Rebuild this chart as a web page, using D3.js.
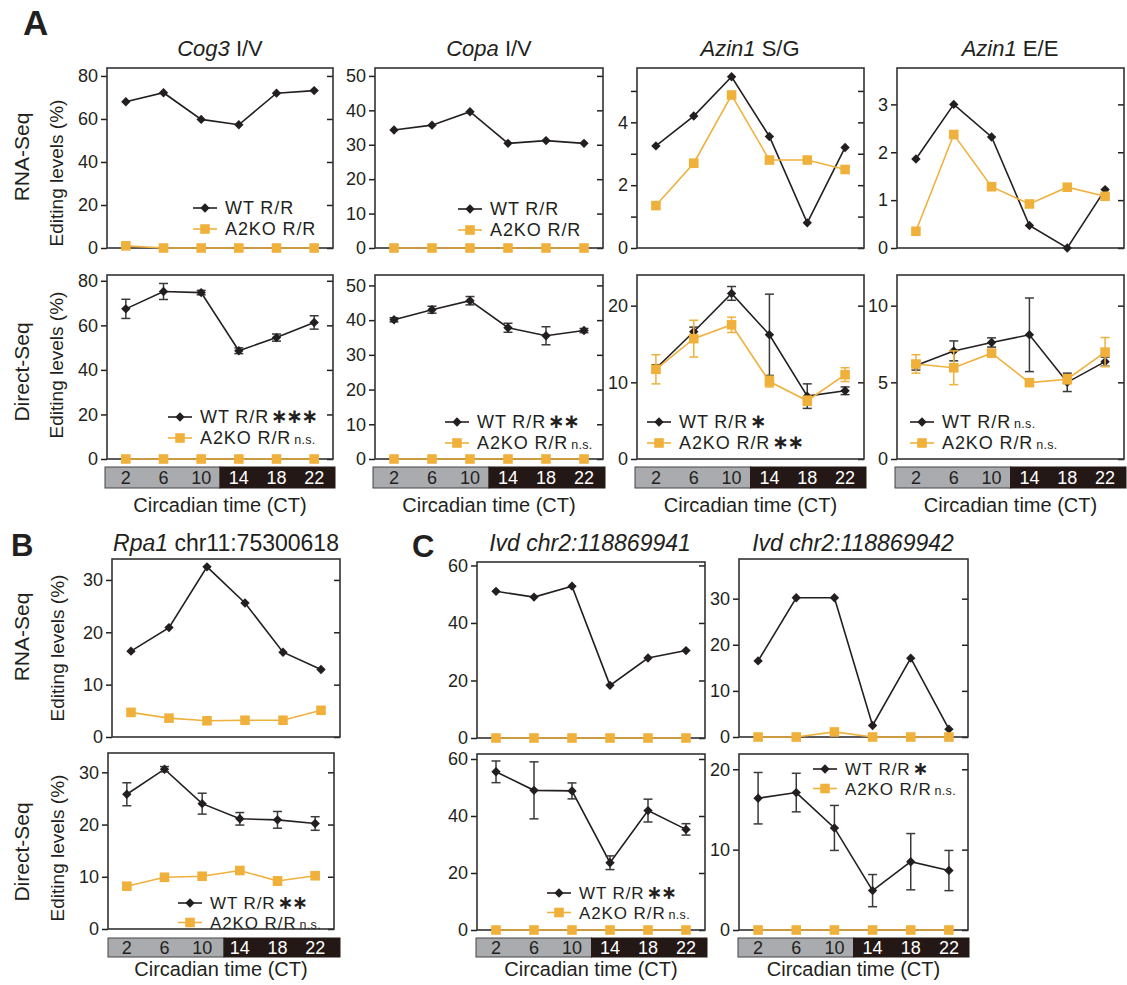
<!DOCTYPE html>
<html><head><meta charset="utf-8">
<script src="https://cdn.jsdelivr.net/npm/d3@7"></script>
<style>
body{margin:0;background:#fff}
svg{display:block}
text{font-family:Arial,"Liberation Sans",sans-serif;fill:#231f20}
</style>
</head><body>
<svg id="fig" width="1127" height="985"></svg>
<script>
// ---------- DATA ----------
const ctTimes = [2, 6, 10, 14, 18, 22];
const ctLabels = ["2", "6", "10", "14", "18", "22"];
const seriesNames = ["WT R/R", "A2KO R/R"];

// Panel A — Cog3 I/V
const cog3RnaWT = [68, 72.2, 59.8, 57.3, 72, 73.2];
const cog3RnaKO = [1, 0, 0, 0, 0, 0];
const cog3RnaTicks = [0, 20, 40, 60, 80];
const cog3DirWT = [67.4, 75.2, 74.7, 48.6, 54.5, 61.3];
const cog3DirWTErr = [4.3, 3.6, 1.0, 1.3, 1.6, 3.0];
const cog3DirKO = [0, 0, 0, 0, 0, 0];
const cog3DirKOErr = [0, 0, 0, 0, 0, 0];
const cog3DirTicks = [0, 20, 40, 60, 80];
const cog3DirSig = ["***", "n.s."];

// Panel A — Copa I/V
const copaRnaWT = [34.3, 35.7, 39.6, 30.4, 31.2, 30.4];
const copaRnaKO = [0, 0, 0, 0, 0, 0];
const copaRnaTicks = [0, 10, 20, 30, 40, 50];
const copaDirWT = [40.1, 43.0, 45.6, 37.8, 35.5, 37.0];
const copaDirWTErr = [0.6, 1.0, 1.2, 1.3, 2.6, 0.6];
const copaDirKO = [0, 0, 0, 0, 0, 0];
const copaDirKOErr = [0, 0, 0, 0, 0, 0];
const copaDirTicks = [0, 10, 20, 30, 40, 50];
const copaDirSig = ["**", "n.s."];

// Panel A — Azin1 S/G
const sgRnaWT = [3.25, 4.2, 5.45, 3.55, 0.8, 3.2];
const sgRnaKO = [1.35, 2.7, 4.87, 2.8, 2.8, 2.5];
const sgRnaTicks = [0, 1, 2, 3, 4, 5];
const sgRnaTickLabels = ["0", "", "2", "", "4", ""];
const sgDirWT = [11.8, 16.6, 21.6, 16.2, 8.2, 8.9];
const sgDirWTErr = [0.5, 0.6, 0.9, 5.3, 1.6, 0.5];
const sgDirKO = [11.7, 15.7, 17.5, 10.1, 7.6, 11.0];
const sgDirKOErr = [1.9, 2.4, 1.0, 0.7, 0.6, 0.9];
const sgDirTicks = [0, 10, 20];
const sgDirSig = ["*", "**"];

// Panel A — Azin1 E/E
const eeRnaWT = [1.86, 3.0, 2.32, 0.47, 0.0, 1.22];
const eeRnaKO = [0.35, 2.37, 1.28, 0.92, 1.27, 1.08];
const eeRnaTicks = [0, 1, 2, 3];
const eeDirWT = [6.1, 7.05, 7.6, 8.1, 5.0, 6.35];
const eeDirWTErr = [0.3, 0.65, 0.3, 2.4, 0.6, 0.3];
const eeDirKO = [6.2, 5.95, 6.9, 4.98, 5.2, 6.97];
const eeDirKOErr = [0.6, 1.1, 0.25, 0, 0.3, 0.95];
const eeDirTicks = [0, 5, 10];
const eeDirSig = ["n.s.", "n.s."];

// Panel B — Rpa1 chr11:75300618
const rpaRnaWT = [16.4, 20.9, 32.5, 25.6, 16.2, 12.9];
const rpaRnaKO = [4.7, 3.6, 3.1, 3.2, 3.2, 5.1];
const rpaRnaTicks = [0, 10, 20, 30];
const rpaDirWT = [25.8, 30.6, 24.0, 21.1, 20.9, 20.2];
const rpaDirWTErr = [2.2, 0.5, 2.0, 1.2, 1.6, 1.3];
const rpaDirKO = [8.2, 9.9, 10.1, 11.2, 9.2, 10.2];
const rpaDirKOErr = [0.4, 0.7, 0.5, 0.4, 0.8, 0.5];
const rpaDirTicks = [0, 10, 20, 30];
const rpaDirSig = ["**", "n.s."];

// Panel C — Ivd chr2:118869941
const ivd41RnaWT = [51, 49, 52.8, 18.3, 27.8, 30.4];
const ivd41RnaKO = [0, 0, 0, 0, 0, 0];
const ivd41RnaTicks = [0, 20, 40, 60];
const ivd41DirWT = [55.5, 49.0, 48.8, 23.6, 41.9, 35.3];
const ivd41DirWTErr = [3.8, 10, 2.8, 2.4, 4.0, 2.0];
const ivd41DirKO = [0, 0, 0, 0, 0, 0];
const ivd41DirKOErr = [0, 0, 0, 0, 0, 0];
const ivd41DirTicks = [0, 20, 40, 60];
const ivd41DirSig = ["**", "n.s."];

// Panel C — Ivd chr2:118869942
const ivd42RnaWT = [16.5, 30.2, 30.2, 2.5, 17.1, 1.7];
const ivd42RnaKO = [0, 0, 1.1, 0, 0, 0];
const ivd42RnaTicks = [0, 10, 20, 30];
const ivd42DirWT = [16.4, 17.1, 12.7, 4.9, 8.5, 7.4];
const ivd42DirWTErr = [3.2, 2.4, 2.8, 2.0, 3.5, 2.5];
const ivd42DirKO = [0, 0, 0, 0, 0, 0];
const ivd42DirKOErr = [0, 0, 0, 0, 0, 0];
const ivd42DirTicks = [0, 10, 20];
const ivd42DirSig = ["*", "n.s."];

// ---------- STYLE / LAYOUT ----------
const BLACK = "#231f20";
const ORANGE = "#f0b13c";
const GRAY = "#a9abae";
const svg = d3.select("#fig");

// legend: [line start x, first row centre y, row gap, font size]
const panels = [
  // row A1
  {box:[107,333,68,248], max:83.7, ticks:cog3RnaTicks, wt:cog3RnaWT, ko:cog3RnaKO, legend:[193,208,21,18]},
  {box:[375,603,68,248], max:52.3, ticks:copaRnaTicks, wt:copaRnaWT, ko:copaRnaKO, legend:[458,209,21,18]},
  {box:[637,864,68,248], max:5.73, ticks:sgRnaTicks, tickLabels:sgRnaTickLabels, wt:sgRnaWT, ko:sgRnaKO},
  {box:[897,1124,68,248], max:3.76, ticks:eeRnaTicks, wt:eeRnaWT, ko:eeRnaKO},
  // row A2
  {box:[107,333,275,459], max:82.6, ticks:cog3DirTicks, wt:cog3DirWT, wtErr:cog3DirWTErr, ko:cog3DirKO, koErr:cog3DirKOErr, legend:[168,417,21,18], sig:cog3DirSig, bar:[105,335,467,488], xlab:512},
  {box:[375,603,275,459], max:53, ticks:copaDirTicks, wt:copaDirWT, wtErr:copaDirWTErr, ko:copaDirKO, koErr:copaDirKOErr, legend:[445,422,21,18], sig:copaDirSig, bar:[373,605,467,488], xlab:512},
  {box:[637,864,275,459], max:24, ticks:sgDirTicks, wt:sgDirWT, wtErr:sgDirWTErr, ko:sgDirKO, koErr:sgDirKOErr, legend:[647,422,21,18], sig:sgDirSig, bar:[635,866,467,488], xlab:512},
  {box:[897,1124,275,459], max:12, ticks:eeDirTicks, wt:eeDirWT, wtErr:eeDirWTErr, ko:eeDirKO, koErr:eeDirKOErr, legend:[910,422,21,18], sig:eeDirSig, bar:[895,1126,467,488], xlab:512},
  // B
  {box:[112,340,559,737], max:34, ticks:rpaRnaTicks, wt:rpaRnaWT, ko:rpaRnaKO},
  {box:[108,334,753,929], max:33.7, ticks:rpaDirTicks, wt:rpaDirWT, wtErr:rpaDirWTErr, ko:rpaDirKO, koErr:rpaDirKOErr, legend:[178,903,19.5,17], sig:rpaDirSig, bar:[108,340,938,957], xlab:976},
  // C
  {box:[477,705,562,738], max:61.2, ticks:ivd41RnaTicks, wt:ivd41RnaWT, ko:ivd41RnaKO},
  {box:[477,705,754,930], max:61.75, ticks:ivd41DirTicks, wt:ivd41DirWT, wtErr:ivd41DirWTErr, ko:ivd41DirKO, koErr:ivd41DirKOErr, legend:[547,893,19.5,17], sig:ivd41DirSig, bar:[476,707,938,957], xlab:976},
  {box:[739,968,559,737], max:38.6, ticks:ivd42RnaTicks, wt:ivd42RnaWT, ko:ivd42RnaKO},
  {box:[739,968,754,930], max:21.9, ticks:ivd42DirTicks, wt:ivd42DirWT, wtErr:ivd42DirWTErr, ko:ivd42DirKO, koErr:ivd42DirKOErr, legend:[813,769,19.5,17], sig:ivd42DirSig, bar:[738,969,938,957], xlab:976}
];

const diamond = d3.symbol().type(d3.symbolSquare).size(44);
const square = d3.symbol().type(d3.symbolSquare).size(92);

function drawSeries(g, x, y, vals, errs, color, isWT) {
  const pts = ctTimes.map((t, i) => ({t, v: vals[i], e: errs ? errs[i] : 0}));
  g.append("path").datum(pts)
    .attr("fill", "none").attr("stroke", color).attr("stroke-width", 1.6)
    .attr("d", d3.line().x(d => x(d.t)).y(d => y(d.v)));
  if (errs) {
    const eg = g.append("g").attr("stroke", isWT ? "#3a3a3a" : color).attr("stroke-width", 1.5);
    pts.filter(d => d.e > 0).forEach(d => {
      eg.append("line").attr("x1", x(d.t)).attr("x2", x(d.t)).attr("y1", y(d.v - d.e)).attr("y2", y(d.v + d.e));
      [d.v - d.e, d.v + d.e].forEach(v => eg.append("line")
        .attr("x1", x(d.t) - 4.5).attr("x2", x(d.t) + 4.5).attr("y1", y(v)).attr("y2", y(v)));
    });
  }
  g.selectAll(null).data(pts).enter().append("path")
    .attr("d", isWT ? diamond : square)
    .attr("fill", color)
    .attr("transform", d => `translate(${x(d.t)},${y(d.v)})` + (isWT ? " rotate(45)" : ""));
}

panels.forEach(p => {
  const [x0, x1, y0, y1] = p.box;
  const x = d3.scaleLinear().domain([0, 24]).range([x0, x1]);
  const y = d3.scaleLinear().domain([0, p.max]).range([y1, y0]);
  const g = svg.append("g");

  // left axis (outward ticks)
  const fmt = p.tickLabels ? ((d, i) => p.tickLabels[i]) : d3.format("d");
  const la = g.append("g").attr("transform", `translate(${x0},0)`)
    .call(d3.axisLeft(y).tickValues(p.ticks).tickFormat(fmt).tickSize(6).tickPadding(3));
  la.select(".domain").remove();
  la.selectAll("line").attr("stroke", BLACK).attr("stroke-width", 1.5);
  la.selectAll("text").attr("font-size", 18).attr("fill", BLACK).attr("font-family", "Arial,'Liberation Sans',sans-serif");
  // right axis (inward ticks)
  const ra = g.append("g").attr("transform", `translate(${x1},0)`)
    .call(d3.axisLeft(y).tickValues(p.ticks).tickFormat("").tickSize(6));
  ra.select(".domain").remove();
  ra.selectAll("line").attr("stroke", BLACK).attr("stroke-width", 1.5);

  // box
  g.append("rect").attr("x", x0).attr("y", y0).attr("width", x1 - x0).attr("height", y1 - y0)
    .attr("fill", "none").attr("stroke", "#333").attr("stroke-width", 1.6);

  drawSeries(g, x, y, p.wt, p.wtErr, BLACK, true);
  drawSeries(g, x, y, p.ko, p.koErr, ORANGE, false);

  // legend
  if (p.legend) {
    const [lx, ly, gap, fs] = p.legend;
    [0, 1].forEach(i => {
      const yy = ly + i * gap;
      const c = i === 0 ? BLACK : ORANGE;
      g.append("line").attr("x1", lx).attr("x2", lx + 24).attr("y1", yy).attr("y2", yy)
        .attr("stroke", c).attr("stroke-width", 1.6);
      g.append("path").attr("d", i === 0 ? diamond : square).attr("fill", c)
        .attr("transform", `translate(${lx + 12},${yy})` + (i === 0 ? " rotate(45)" : ""));
      const t = g.append("text").attr("x", lx + 32).attr("y", yy + fs * 0.36)
        .attr("font-size", fs).attr("letter-spacing", 0.9).text(seriesNames[i]);
      if (p.sig) {
        const s = p.sig[i];
        if (s === "n.s.") t.append("tspan").attr("font-size", 12.5).attr("letter-spacing", 0.3).attr("dx", 3).text(s);
        else t.append("tspan").attr("font-size", fs + 2).attr("font-weight", "bold")
          .attr("font-family", "'DejaVu Sans',sans-serif").attr("letter-spacing", -1.5)
          .attr("dx", 2).text(s.replace(/\*/g, "\u2217"));
      }
    });
  }

  // CT bar
  if (p.bar) {
    const [bx0, bx1, by0, by1] = p.bar;
    const xb = d3.scaleLinear().domain([0, 24]).range([bx0, bx1]);
    g.append("rect").attr("x", xb(0)).attr("y", by0).attr("width", xb(12) - xb(0)).attr("height", by1 - by0)
      .attr("fill", GRAY).attr("stroke", "#444").attr("stroke-width", 1);
    g.append("rect").attr("x", xb(12)).attr("y", by0).attr("width", xb(24) - xb(12)).attr("height", by1 - by0)
      .attr("fill", "#231815").attr("stroke", "#231815").attr("stroke-width", 1);
    ctTimes.forEach((t, i) => {
      g.append("text").attr("x", x(t)).attr("y", (by0 + by1) / 2 + 6.5).attr("text-anchor", "middle")
        .attr("font-size", 18).style("fill", t < 12 ? "#231f20" : "#ffffff").text(ctLabels[i]);
    });
    g.append("text").attr("x", (x0 + x1) / 2).attr("y", p.xlab).attr("text-anchor", "middle")
      .attr("font-size", 20).text("Circadian time (CT)");
  }
});

// ---------- titles ----------
function title(cx, yb, italic, rest, size, allItalic) {
  const t = svg.append("text").attr("x", cx).attr("y", yb).attr("text-anchor", "middle").attr("font-size", size);
  t.append("tspan").attr("font-style", "italic").text(italic);
  if (rest) t.append("tspan").attr("font-style", allItalic ? "italic" : "normal").text(rest);
}
title(220, 56, "Cog3", " I/V", 22);
title(489, 56, "Copa", " I/V", 22);
title(750, 56, "Azin1", " S/G", 22);
title(1010, 56, "Azin1", " E/E", 22);
title(226, 551, "Rpa1", " chr11:75300618", 23);
title(590, 551, "Ivd", " chr2:118869941", 23, true);
title(853, 551, "Ivd", " chr2:118869942", 23, true);

// ---------- panel letters ----------
[["A", 23, 35, 35], ["B", 11, 556, 31], ["C", 412, 557, 31]].forEach(([s, x, yb, fs]) =>
  svg.append("text").attr("x", x).attr("y", yb).attr("font-size", fs).attr("font-weight", "bold").text(s));

// ---------- y-axis labels ----------
function vlabel(cx, cy, s, size) {
  svg.append("text").attr("transform", `translate(${cx},${cy}) rotate(-90)`)
    .attr("text-anchor", "middle").attr("dominant-baseline", "central").attr("font-size", size).text(s);
}
vlabel(21, 157, "RNA-Seq", 21);
vlabel(56, 173, "Editing levels (%)", 19);
vlabel(21, 372, "Direct-Seq", 21);
vlabel(56, 365, "Editing levels (%)", 19);
vlabel(21, 637, "RNA-Seq", 21);
vlabel(57, 648, "Editing levels (%)", 19);
vlabel(21, 852, "Direct-Seq", 21);
vlabel(57, 848, "Editing levels (%)", 19);
</script>
</body></html>
